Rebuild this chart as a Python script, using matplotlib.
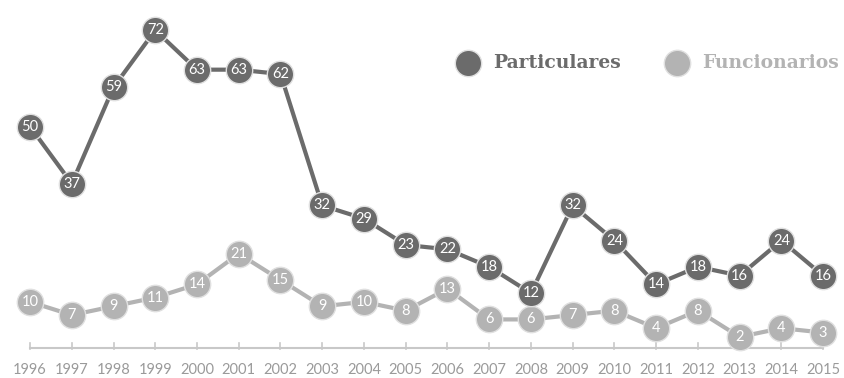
import numpy as np
import matplotlib.pyplot as plt

# Datos
anios = list(range(1996, 2016))
particulares = [50, 37, 59, 72, 63, 63, 62, 32, 29, 23, 22, 18, 12, 32, 24, 14, 18, 16, 24, 16]
funcionarios = [10, 7, 9, 11, 14, 21, 15, 9, 10, 8, 13, 6, 6, 7, 8, 4, 8, 2, 4, 3]

color_part = '#6b6b6b'
color_func = '#b3b3b3'

fig = plt.figure(figsize=(8.44, 3.78), dpi=100)
ax = fig.add_axes([0, 0, 1, 1])
ax.set_xlim(1995.28, 2015.50)
ax.set_ylim(-7.37, 78.9)
ax.axis('off')

# Eje horizontal con marcas
ax.plot([1996, 2015], [-0.5, -0.5], color='#c8c8c8', lw=1.5, zorder=1)
for a in anios:
    ax.plot([a, a], [-0.75, 0.6], color='#c8c8c8', lw=1.2, zorder=1)
    ax.text(a, -5.5, str(a), ha='center', va='center', fontsize=10.5,
            color='#9a9a9a', family='Lato')

# Series
for valores, color in [(funcionarios, color_func), (particulares, color_part)]:
    ax.plot(anios, valores, color=color, lw=3, zorder=2)
    ax.plot(anios, valores, 'o', ms=19, color=color, mec='#e0e0e0', mew=1, zorder=3)
    for a, v in zip(anios, valores):
        ax.text(a, v, str(v), ha='center', va='center', fontsize=10.5,
                color='white', family='Lato', zorder=4)

# Leyenda
ax.plot(2006.5, 64.5, 'o', ms=19, color=color_part, mec='#e0e0e0', mew=1)
ax.text(2007.1, 64.5, 'Particulares', ha='left', va='center', fontsize=13.5,
        fontweight='bold', family='DejaVu Serif', color=color_part)
ax.plot(2011.5, 64.5, 'o', ms=19, color=color_func, mec='#e0e0e0', mew=1)
ax.text(2012.1, 64.5, 'Funcionarios', ha='left', va='center', fontsize=13.5,
        fontweight='bold', family='DejaVu Serif', color=color_func)

fig.savefig('out.png', dpi=100)
